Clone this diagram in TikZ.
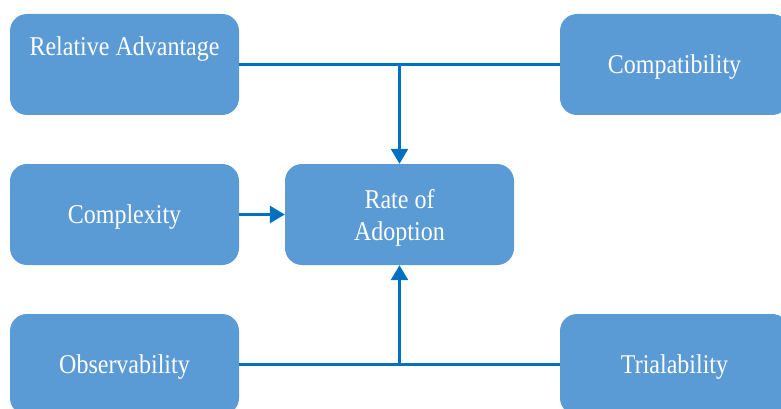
\documentclass[tikz,border=0pt]{standalone}
\usepackage{fontspec}
\setmainfont{Liberation Serif}
\usetikzlibrary{arrows.meta}
\definecolor{boxblue}{HTML}{5B9BD5}
\definecolor{linkblue}{HTML}{0070C0}
% slightly tall lettering, set a little low without changing its box
\newcommand{\tall}[1]{\raisebox{-3pt}[\height][\depth]{\scalebox{1}[1.13]{#1}}}
\begin{document}
\begin{tikzpicture}[x=1pt,y=-1pt,
  factor/.style={rectangle, rounded corners=17pt, fill=boxblue,
    minimum width=229pt, minimum height=101pt, inner sep=0pt,
    text=white, align=center,
    font=\fontsize{24}{32}\selectfont},
  link/.style={draw=linkblue, line width=2.8pt},
  arrowlink/.style={link, -{Triangle[width=17pt,length=15pt]}}]
  \useasboundingbox (0,0) rectangle (781,409);
  % factor boxes
  \node[factor] (rel) at (124.5,64.5) {\tall{Relative Advantage}\\[2pt]\strut};
  \node[factor] (com) at (674.5,64.5) {\tall{Compatibility}};
  \node[factor] (cpx) at (124.5,214.5) {\tall{Complexity}};
  \node[factor] (rate) at (399.5,214.5) {\tall{Rate of}\\\tall{Adoption}};
  \node[factor] (obs) at (124.5,364.5) {\tall{Observability}};
  \node[factor] (tri) at (674.5,364.5) {\tall{Trialability}};
  % junctions above and below the central box
  \coordinate (top) at (rate.north |- rel.east);
  \coordinate (bot) at (rate.south |- obs.east);
  % connectors
  \draw[link] (rel.east) -- (com.west);
  \draw[arrowlink] (top) -- (rate.north);
  \draw[link] (obs.east) -- (tri.west);
  \draw[arrowlink] (bot) -- (rate.south);
  \draw[arrowlink] (cpx.east) -- (rate.west);
\end{tikzpicture}
\end{document}
